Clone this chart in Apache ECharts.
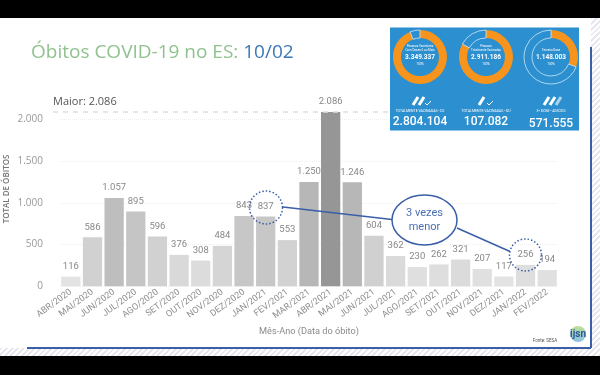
<!DOCTYPE html>
<html>
<head>
<meta charset="utf-8">
<style>
  html, body { margin: 0; padding: 0; background: #fff; }
  #main {
    width: 600px;
    height: 375px;
    background: repeating-linear-gradient(135deg, #fff 0, #fff 2px, #e6e8ee 2px, #e6e8ee 4px);
  }
</style>
<script src="https://cdn.jsdelivr.net/npm/echarts@6/dist/echarts.min.js"></script>
</head>
<body>
<div id="main"></div>
<script>
var months = ["ABR/2020", "MAI/2020", "JUN/2020", "JUL/2020", "AGO/2020", "SET/2020", "OUT/2020", "NOV/2020", "DEZ/2020", "JAN/2021", "FEV/2021", "MAR/2021", "ABR/2021", "MAI/2021", "JUN/2021", "JUL/2021", "AGO/2021", "SET/2021", "OUT/2021", "NOV/2021", "DEZ/2021", "JAN/2022", "FEV/2022"];
var deaths = [116, 586, 1057, 895, 596, 376, 308, 484, 843, 837, 553, 1250, 2086, 1246, 604, 362, 230, 262, 321, 207, 117, 256, 194];
var maxDeaths = 2086;

// the three vaccine rings of the inset, filled share
var ringShares = [94, 83, 31];
var ringTitles = [["Pessoas Vacináveis", "Com Doses 5 ou Mais"], ["Pessoas", "Totalmente Vacinadas"], ["Terceira Dose"]];
var ringTotals = ["3.349.337", "2.911.186", "1.148.003"];
var panelLabels = ["TOTALMENTE VACINADAS - D2", "TOTALMENTE VACINADAS - DU", "3ª DOSE - ADICIOS"];
var panelTotals = ["2.804.104", "107.082", "571.555"];
var ringX = [420, 486, 551];
var syringeCount = [2, 1, 3];

var frameBlue = "#3a5ea8";

function dots(v) {
  return String(v).replace(/\B(?=(\d{3})+$)/g, ".");
}

function txt(x, y, text, size, weight, color, z) {
  return {
    type: "text", x: x, y: y, z: z || 6, silent: true,
    style: { text: text, fontSize: size, fontWeight: weight || "normal", fill: color || "#fff", align: "center", verticalAlign: "middle", fontFamily: "Roboto" }
  };
}

var rings = ringShares.map(function (share, i) {
  return {
    type: "pie", z: 5, silent: true, animation: false,
    center: [ringX[i], 57], radius: [19, 27], startAngle: 90,
    label: { show: false }, labelLine: { show: false },
    data: [
      { value: share, itemStyle: { color: "#f7941d" } },
      { value: 100 - share, itemStyle: { color: "transparent", borderColor: "#cfe8f7", borderWidth: 0.8 } }
    ]
  };
});

var panelGraphics = [];
ringX.forEach(function (x, i) {
  var lines = ringTitles[i];
  lines.forEach(function (line, k) {
    panelGraphics.push(txt(x, 50 - (lines.length - 1 - k) * 4, line, 3));
  });
  panelGraphics.push(txt(x, 57.5, ringTotals[i], 6.5, "bold"));
  panelGraphics.push(txt(x, 64, "100%", 3));
  panelGraphics.push(txt(x, 111, panelLabels[i], 3.5));
  panelGraphics.push(txt(x, i === 2 ? 124 : 122, panelTotals[i], 12, "500"));
  // little syringes with a check mark
  for (var s = 0; s < syringeCount[i]; s++) {
    panelGraphics.push({
      type: "line", z: 6, silent: true,
      shape: { x1: x - 7 + s * 6, y1: 105, x2: x - 2 + s * 6, y2: 97 },
      style: { stroke: i === 2 && s === 2 ? "#a8d4ef" : "#fff", lineWidth: 3 }
    });
  }
  if (i < 2) {
    panelGraphics.push({
      type: "polyline", z: 6, silent: true,
      shape: { points: [[x + (i === 0 ? 5 : 1), 103], [x + (i === 0 ? 7 : 3), 105], [x + (i === 0 ? 11 : 7), 101]] },
      style: { stroke: "#fff", lineWidth: 1, fill: null }
    });
  }
});

var chart = echarts.init(document.getElementById("main"));

chart.setOption({
  animation: false,
  title: {
    left: 26, top: 38,
    text: "{a|Óbitos COVID-19 no ES: }{b|10/02}",
    textStyle: {
      fontWeight: "normal",
      rich: {
        a: { fontSize: 19, fontWeight: "normal", color: "#8fc28f", fontFamily: "Open Sans" },
        b: { fontSize: 19, fontWeight: "normal", color: "#3b78b5", fontFamily: "Open Sans" }
      }
    }
  },
  grid: { left: 60, right: 42, top: 77.5, bottom: 88.7, outerBoundsMode: "none" },
  xAxis: {
    type: "category",
    data: months,
    axisLine: { show: false },
    axisTick: { show: false },
    axisLabel: { interval: 0, rotate: 36, fontSize: 9, color: "#8f8f8f", margin: 5, fontFamily: "Roboto" },
    name: "Mês-Ano (Data do óbito)",
    nameLocation: "middle",
    nameGap: 34,
    nameTextStyle: { fontSize: 9.2, color: "#8a8a8a", fontFamily: "Roboto" }
  },
  yAxis: {
    type: "value",
    min: 0,
    max: 2500,
    interval: 500,
    axisLine: { show: false },
    axisTick: { show: false },
    splitLine: { showMaxLine: false, lineStyle: { color: "#efefef", type: "dotted" } },
    axisLabel: {
      showMaxLabel: false, margin: 17, fontSize: 10, color: "#999", fontFamily: "Open Sans",
      formatter: dots
    }
  },
  visualMap: {
    show: false,
    seriesIndex: 0,
    min: 0,
    max: maxDeaths,
    inRange: { color: ["#e8e8e8", "#969696"] }
  },
  series: [{
    type: "bar",
    data: deaths,
    barCategoryGap: "11%",
    silent: true,
    label: {
      show: true, position: "top", distance: 5, fontSize: 9.5, color: "#888", fontFamily: "Roboto",
      formatter: function (p) { return dots(p.value); }
    },
    markLine: {
      silent: true,
      symbol: "none",
      lineStyle: { color: "#dedede", type: [5, 5], width: 1.5 },
      label: {
        show: true, position: "insideStartTop", distance: [0, 5], formatter: "Maior: " + dots(maxDeaths),
        fontSize: 11, color: "#555", fontFamily: "Open Sans"
      },
      data: [[{ x: 53, yAxis: maxDeaths }, { x: 389, yAxis: maxDeaths }]]
    }
  }].concat(rings),
  graphic: {
    elements: [
      // sheet of the slide over the hatched background
      { type: "rect", z: -1, silent: true, shape: { x: 0, y: 18, width: 591, height: 330 }, style: { fill: "#fff" } },
      { type: "rect", z: 20, silent: true, shape: { x: 0, y: 0, width: 600, height: 18 }, style: { fill: "#000" } },
      { type: "rect", z: 20, silent: true, shape: { x: 0, y: 356, width: 600, height: 19 }, style: { fill: "#000" } },
      { type: "line", z: 4, silent: true, shape: { x1: 27, y1: 348, x2: 591, y2: 348 }, style: { stroke: frameBlue, lineWidth: 2 } },
      { type: "line", z: 4, silent: true, shape: { x1: 591, y1: 47, x2: 591, y2: 348 }, style: { stroke: frameBlue, lineWidth: 2 } },
      // y axis title, sits lower than the axis middle in the original
      {
        type: "text", x: 7, y: 189, rotation: Math.PI / 2, z: 6, silent: true,
        style: { text: "TOTAL DE ÓBITOS", fontSize: 8, fontWeight: 600, fill: "#777", align: "center", verticalAlign: "middle", fontFamily: "Open Sans" }
      },
      // inset
      { type: "rect", z: 4, silent: true, shape: { x: 390, y: 27.5, width: 189, height: 103 }, style: { fill: "#2b8fd0" } },
      // callouts
      { type: "line", z: 7, silent: true, shape: { x1: 283, y1: 207, x2: 392, y2: 219.5 }, style: { stroke: frameBlue, lineWidth: 1.5 } },
      { type: "line", z: 7, silent: true, shape: { x1: 457, y1: 228, x2: 510, y2: 251.5 }, style: { stroke: frameBlue, lineWidth: 1.5 } },
      { type: "circle", z: 7, silent: true, shape: { cx: 266, cy: 207.5, r: 16.5 }, style: { fill: null, stroke: frameBlue, lineWidth: 1.5, lineDash: [1.5, 2] } },
      { type: "circle", z: 7, silent: true, shape: { cx: 525.5, cy: 255, r: 16 }, style: { fill: null, stroke: frameBlue, lineWidth: 1.5, lineDash: [1.5, 2] } },
      { type: "ellipse", z: 7, silent: true, shape: { cx: 424.5, cy: 220, rx: 32.5, ry: 25 }, style: { fill: "#fff", stroke: frameBlue, lineWidth: 1.5 } },
      txt(424.5, 213, "3 vezes", 11, "normal", "#4a6fb5", 8),
      txt(424.5, 227, "menor", 11, "normal", "#4a6fb5", 8),
      // source and logo
      txt(545, 341, "Fonte: SESA", 4.5, "normal", "#555", 8),
      { type: "circle", z: 7, silent: true, shape: { cx: 578, cy: 334, r: 8 }, style: { fill: new echarts.graphic.LinearGradient(0, 0, 0, 1, [{ offset: 0, color: "#8cc63f" }, { offset: 1, color: "#2b8fd0" }]), opacity: 0.55 } },
      txt(578, 334, "ijsn", 10, "bold", "#2a5a9c", 8)
    ].concat(panelGraphics)
  }
});
</script>
</body>
</html>
